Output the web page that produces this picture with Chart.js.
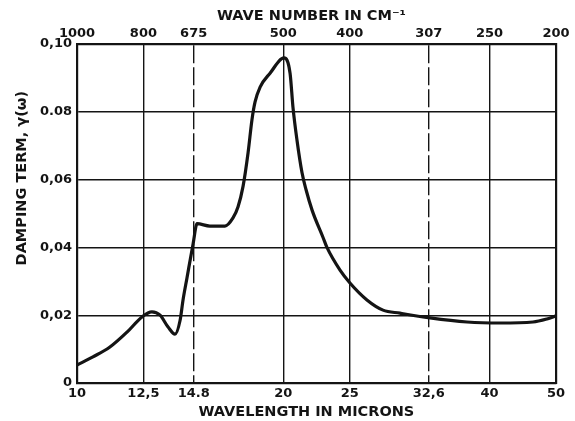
<!DOCTYPE html>
<html>
<head>
<meta charset="utf-8">
<script src="https://cdn.jsdelivr.net/npm/chart.js@4"></script>
<style>
  html, body { margin: 0; padding: 0; background: #fff; }
  #chart { display: block; }
</style>
</head>
<body>
<canvas id="chart" width="575" height="421"></canvas>
<script>
// curve (wavelength in microns, damping term)
const wavelength = [10, 10.55, 11.17, 11.83, 12.44, 12.86, 13.22, 13.58, 13.9, 14.14, 14.28, 14.47, 14.77, 14.97,
  15.63, 16.44, 16.89, 17.18, 17.47, 17.77, 18.0, 18.19, 18.5, 19.13, 20.05, 20.46, 20.66, 20.94, 21.3, 21.59,
  22.03, 22.85, 23.16, 24.2, 25.02, 26.49, 27.96, 29.6, 32.74, 37.08, 41.43, 46.28, 48.51, 50];
const damping = [0.0053, 0.0077, 0.0106, 0.015, 0.0195, 0.021, 0.020, 0.0165, 0.0144, 0.0185, 0.0245, 0.031, 0.041, 0.047,
  0.0463, 0.0463, 0.0487, 0.052, 0.058, 0.068, 0.0776, 0.0829, 0.0873, 0.0914, 0.0959, 0.0914, 0.0814, 0.0717, 0.062, 0.057,
  0.051, 0.043, 0.040, 0.0333, 0.0295, 0.0245, 0.0215, 0.0206, 0.0192, 0.018, 0.0177, 0.018, 0.0189, 0.0198];

const wavelengthTicks = [10, 12.5, 14.8, 20, 25, 32.6, 40, 50];
const wavelengthLabels = ['10', '12,5', '14.8', '20', '25', '32,6', '40', '50'];
const wavenumberLabels = ['1000', '800', '675', '500', '400', '307', '250', '200'];
const dashedTicks = [14.8, 32.6];
const dampingTicks = [0, 0.02, 0.04, 0.06, 0.08, 0.1];
const dampingLabels = ['0', '0,02', '0,04', '0,06', '0.08', '0,10'];

const ink = '#141414';
Chart.defaults.font.family = "'DejaVu Sans', sans-serif";
Chart.defaults.font.size = 13;
Chart.defaults.font.weight = 'bold';
Chart.defaults.color = ink;

const titleFont = { size: 14.5, weight: 'bold' };

const setTicks = (values) => (scale) => {
  scale.ticks = values.map((v) => ({ value: v }));
};
const isDashed = (ctx) => ctx.tick && dashedTicks.includes(ctx.tick.value);

const ctx = document.getElementById('chart').getContext('2d');
new Chart(ctx, {
  type: 'line',
  data: {
    datasets: [{
      data: wavelength.map((w, i) => ({ x: w, y: damping[i] })),
      borderColor: ink,
      borderWidth: 3.2,
      pointRadius: 0,
      cubicInterpolationMode: 'monotone',
      fill: false,
    }],
  },
  options: {
    responsive: false,
    animation: false,
    layout: { padding: 0 },
    plugins: { legend: { display: false }, tooltip: { enabled: false } },
    scales: {
      x: {
        type: 'logarithmic',
        position: 'bottom',
        min: 10,
        max: 50,
        afterBuildTicks: setTicks(wavelengthTicks),
        afterFit: (s) => { s.height = 38; },
        ticks: {
          autoSkip: false, maxRotation: 0, padding: 3,
          callback: (v, i) => wavelengthLabels[i],
        },
        grid: {
          drawTicks: false,
          lineWidth: 1.4,
          color: (c) => (isDashed(c) ? 'rgba(0,0,0,0)' : ink),
        },
        border: { color: ink, width: 2.2 },
        title: {
          display: true, font: titleFont,
          text: 'WAVELENGTH IN MICRONS    ',
          padding: { top: 0, bottom: 0 },
        },
      },
      xTop: {
        type: 'logarithmic',
        position: 'top',
        min: 10,
        max: 50,
        afterBuildTicks: setTicks(wavelengthTicks),
        afterFit: (s) => { s.height = 44; },
        ticks: {
          autoSkip: false, maxRotation: 0, padding: 3,
          callback: (v, i) => wavenumberLabels[i],
        },
        grid: {
          drawTicks: false,
          lineWidth: 1.4,
          color: (c) => (isDashed(c) ? ink : 'rgba(0,0,0,0)'),
        },
        border: { color: ink, width: 2.2, dash: [18, 4] },
        title: {
          display: true, font: titleFont,
          text: 'WAVE NUMBER IN CM⁻¹  ',
          padding: { top: 8, bottom: 0 },
        },
      },
      y: {
        type: 'linear',
        min: 0,
        max: 0.1,
        afterBuildTicks: setTicks(dampingTicks),
        afterFit: (s) => { s.width = 77; },
        ticks: { padding: 5, callback: (v, i) => dampingLabels[i] },
        grid: { drawTicks: false, lineWidth: 1.4, color: ink },
        border: { color: ink, width: 2.2 },
        title: {
          display: true, font: titleFont,
          text: '              DAMPING TERM, γ(ω)',
          padding: { top: 14, bottom: 0 },
        },
      },
      yRight: {
        type: 'linear',
        position: 'right',
        min: 0,
        max: 0.1,
        afterFit: (s) => { s.width = 19; },
        ticks: { display: false },
        grid: { display: false, drawTicks: false },
        border: { color: ink, width: 2.2 },
      },
    },
  },
});
</script>
</body>
</html>
